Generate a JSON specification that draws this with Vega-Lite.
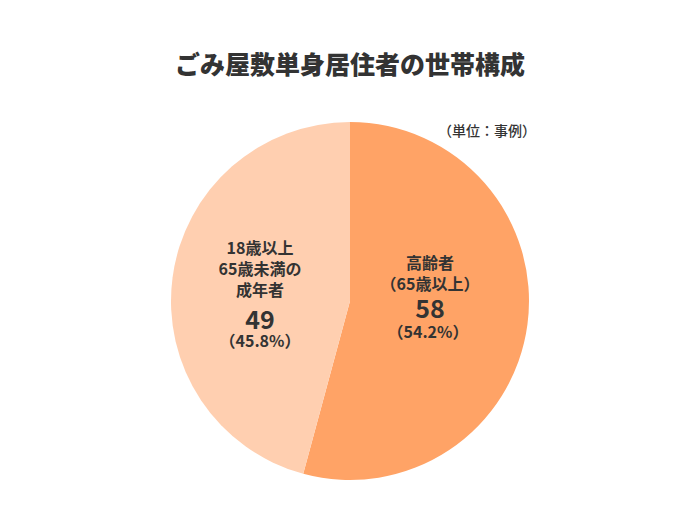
{
  "$schema": "https://vega.github.io/schema/vega-lite/v6.json",
  "width": 700,
  "height": 400,
  "padding": {"top": 54, "left": 0, "right": 0, "bottom": 0},
  "background": "white",
  "config": {"view": {"stroke": null}, "font": "Noto Sans CJK JP"},
  "title": {
    "text": "ごみ屋敷単身居住者の世帯構成",
    "fontSize": 25,
    "fontWeight": 900,
    "color": "#333333",
    "font": "Noto Sans CJK JP",
    "anchor": "middle",
    "offset": 22
  },
  "data": {
    "values": [
      {"group": "高齢者\n（65歳以上）", "value": 58, "pct": "（54.2%）"},
      {"group": "18歳以上\n65歳未満の\n成年者", "value": 49, "pct": "（45.8%）"}
    ]
  },
  "encoding": {
    "theta": {"field": "value", "type": "quantitative", "stack": true},
    "order": {"field": "value", "type": "quantitative", "sort": "descending"}
  },
  "layer": [
    {
      "mark": {"type": "arc", "outerRadius": 179, "stroke": null},
      "encoding": {
        "color": {
          "field": "value",
          "type": "nominal",
          "scale": {"domain": [58, 49], "range": ["#FFA366", "#FFCFB0"]},
          "legend": null
        }
      }
    },
    {
      "mark": {
        "type": "text",
        "radius": {"expr": "0"},
        "fontSize": 16,
        "fontWeight": "bold",
        "color": "#333333",
        "lineBreak": "\n",
        "lineHeight": 21,
        "baseline": "top",
        "dx": {"expr": "datum.value > 50 ? 80 : -90"},
        "dy": {"expr": "datum.value > 50 ? -45 : -60"}
      },
      "encoding": {"text": {"field": "group"}}
    },
    {
      "mark": {
        "type": "text",
        "radius": {"expr": "0"},
        "fontSize": 25,
        "fontWeight": "bold",
        "color": "#333333",
        "baseline": "middle",
        "dx": {"expr": "datum.value > 50 ? 80 : -90"},
        "dy": {"expr": "datum.value > 50 ? 9 : 20"}
      },
      "encoding": {"text": {"field": "value"}}
    },
    {
      "mark": {
        "type": "text",
        "radius": {"expr": "0"},
        "fontSize": 16,
        "fontWeight": "bold",
        "color": "#333333",
        "baseline": "middle",
        "dx": {"expr": "datum.value > 50 ? 78 : -90"},
        "dy": {"expr": "datum.value > 50 ? 32 : 41"}
      },
      "encoding": {"text": {"field": "pct"}}
    },
    {
      "data": {"values": [{"note": "（単位：事例）"}]},
      "mark": {
        "type": "text",
        "fontSize": 14,
        "fontWeight": 500,
        "color": "#333333",
        "align": "right",
        "baseline": "middle",
        "x": {"expr": "width/2 + 186"},
        "y": {"expr": "height/2 - 169"}
      },
      "encoding": {"text": {"field": "note"}, "theta": null, "order": null}
    }
  ]
}
